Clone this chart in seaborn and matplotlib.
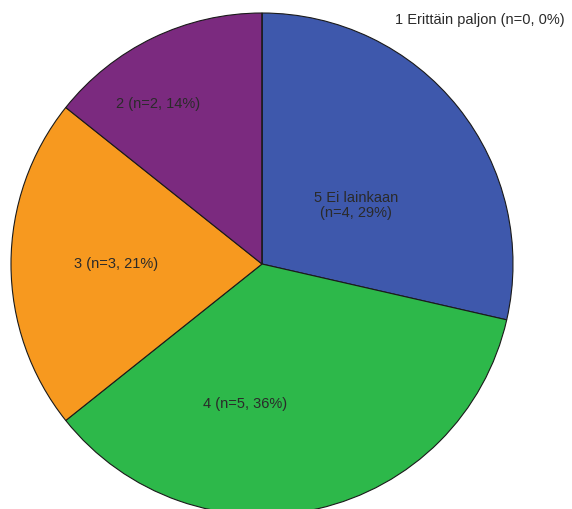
import numpy as np
import matplotlib
matplotlib.use("Agg")
import matplotlib.pyplot as plt
import seaborn as sns

# data, clockwise from top
categories = ["5 Ei lainkaan", "4", "3", "2", "1 Erittäin paljon"]
counts = [4, 5, 3, 2, 0]
colors = ["#3e58ac", "#2db84a", "#f7991f", "#7b2a7f", "#c8c8c8"]

# label placement inside the pie, (radius fraction, angle in degrees)
label_pos = [(0.44, 32), (0.56, 263), (0.58, 180), (0.76, 123)]

sns.set_style("white")
plt.rcParams["font.family"] = ["Liberation Sans", "DejaVu Sans"]

total = sum(counts)
pct = [round(100 * c / total) for c in counts]

fig = plt.figure(figsize=(5.72, 5.09), dpi=100)
R = 251
ax = fig.add_axes([(262 - R) / 572, (509 - 264 - R) / 509, 2 * R / 572, 2 * R / 509])

wedges, _ = ax.pie(
    counts,
    colors=colors,
    startangle=90,
    counterclock=False,
    radius=1,
    wedgeprops=dict(edgecolor="#1a1a1a", linewidth=0.8),
)
for w in wedges:
    w.set_clip_on(False)
ax.set_xlim(-1, 1)
ax.set_ylim(-1, 1)
ax.set_aspect("auto")
ax.axis("off")

for i, (r, ang) in enumerate(label_pos):
    name = categories[i]
    txt = f"{name} (n={counts[i]}, {pct[i]}%)"
    if i == 0:
        txt = f"{name}\n(n={counts[i]}, {pct[i]}%)"
    a = np.deg2rad(ang)
    ax.text(r * np.cos(a), r * np.sin(a), txt, ha="center", va="center",
            fontsize=10.5, color="#2a2a2a", linespacing=1.1)

fig.text(565 / 572, 1 - 20 / 509,
         f"{categories[4]} (n={counts[4]}, {pct[4]}%)",
         ha="right", va="center", fontsize=10.5, color="#2a2a2a")

fig.savefig("out.png", dpi=100)
